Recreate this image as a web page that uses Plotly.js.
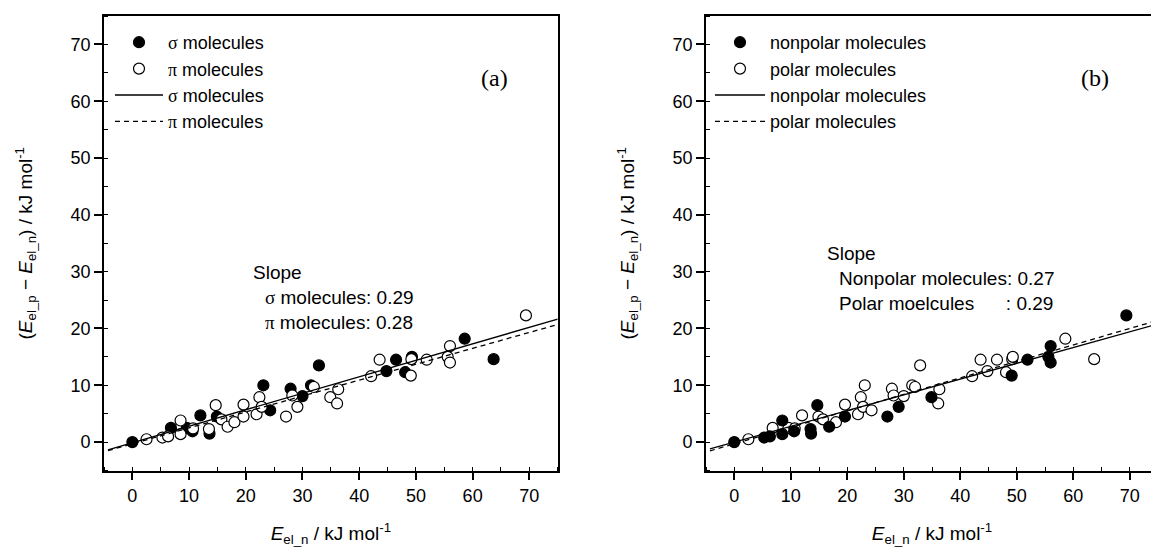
<!DOCTYPE html>
<html><head><meta charset="utf-8">
<script src="https://cdn.plot.ly/plotly-3.0.1.min.js"></script>
<style>html,body{margin:0;padding:0;overflow:hidden;background:#fff}</style>
</head><body><div id="chart" style="width:1165px;height:551px"></div>
<script>
// Panel (a): sigma (filled) and pi (open) molecules
const sigmaX = [0, 6.8, 9.6, 10.6, 12.0, 13.6, 14.9, 23.1, 24.3, 27.9, 30.0, 31.5, 32.9, 44.8, 46.5, 48.1, 49.3, 58.6, 63.7];
const sigmaY = [0, 2.5, 2.5, 1.9, 4.7, 1.5, 4.5, 10.0, 5.6, 9.4, 8.1, 10.0, 13.5, 12.5, 14.5, 12.3, 15.0, 18.2, 14.6];
const piX = [2.5, 5.3, 6.3, 8.5, 8.5, 10.7, 13.5, 14.7, 15.7, 16.8, 18.0, 19.6, 19.6, 21.9, 22.4, 22.8, 27.1, 28.2, 29.1, 32.0, 34.9, 36.3, 36.1, 42.1, 43.6, 49.1, 49.2, 51.9, 55.6, 56.0, 56.0, 69.4];
const piY = [0.5, 0.8, 1.0, 3.8, 1.4, 2.4, 2.3, 6.5, 4.0, 2.7, 3.5, 6.6, 4.5, 4.9, 7.9, 6.2, 4.5, 8.2, 6.2, 9.7, 7.9, 9.3, 6.8, 11.6, 14.5, 11.7, 14.6, 14.5, 15.0, 16.9, 14.0, 22.3];

// Panel (b): nonpolar (filled) and polar (open) molecules
const nonpolarX = [0, 5.3, 6.3, 8.5, 8.5, 10.6, 13.5, 13.6, 14.7, 16.8, 19.6, 27.1, 29.1, 34.9, 49.1, 51.9, 55.6, 56.0, 56.0, 69.4];
const nonpolarY = [0, 0.8, 1.0, 3.8, 1.4, 1.9, 2.3, 1.5, 6.5, 2.7, 4.5, 4.5, 6.2, 7.9, 11.7, 14.5, 15.0, 16.9, 14.0, 22.3];
const polarX = [2.5, 6.8, 9.6, 10.7, 12.0, 14.9, 15.7, 18.0, 19.6, 21.9, 22.4, 22.8, 23.1, 24.3, 27.9, 28.2, 30.0, 31.5, 32.0, 32.9, 36.3, 36.1, 42.1, 43.6, 44.8, 46.5, 48.1, 49.2, 49.3, 58.6, 63.7];
const polarY = [0.5, 2.5, 2.5, 2.4, 4.7, 4.5, 4.0, 3.5, 6.6, 4.9, 7.9, 6.2, 10.0, 5.6, 9.4, 8.2, 8.1, 10.0, 9.7, 13.5, 9.3, 6.8, 11.6, 14.5, 12.5, 14.5, 12.3, 14.6, 15.0, 18.2, 14.6];

// Linear fit lines (end points)
const fitX = [-4.3, 75];
const sigmaFitY = [-1.35, 21.65];
const piFitY = [-1.5, 20.7];
const nonpolarFitY = [-1.2, 20.8];
const polarFitY = [-1.55, 21.45];

// Axis ticks
const tickValues = [0, 10, 20, 30, 40, 50, 60, 70];
const tickLabels = ['0', '10', '20', '30', '40', '50', '60', '70'];

// Labels
const serif = s => '<span style="font-family:\'Liberation Serif\',serif">' + s + '</span>';
const legendA = [serif('σ') + ' molecules', serif('π') + ' molecules', serif('σ') + ' molecules', serif('π') + ' molecules'];
const legendB = ['nonpolar molecules', 'polar molecules', 'nonpolar molecules', 'polar molecules'];
const slopeA = ['Slope', serif('σ') + ' molecules: 0.29', serif('π') + ' molecules: 0.28'];
const slopeB = ['Slope', 'Nonpolar molecules: 0.27', 'Polar moelcules\u00a0\u00a0\u00a0\u00a0\u00a0\u00a0: 0.29'];
const xTitle = '<i>E</i><sub>el_n</sub> / kJ mol<sup>-1</sup>';
const yTitle = '(<i>E</i><sub>el_p</sub> − <i>E</i><sub>el_n</sub>) / kJ mol<sup>-1</sup>';

const FONT = 'Liberation Sans, Arial, sans-serif';
const mk = (filled) => ({symbol: 'circle', size: 11, color: filled ? 'black' : 'white', line: {color: 'black', width: 1.2}});
const DASH = '5px,4px';

const traces = [
  {x: sigmaX, y: sigmaY, mode: 'markers', name: legendA[0], marker: mk(true), xaxis: 'x', yaxis: 'y', legend: 'legend'},
  {x: piX, y: piY, mode: 'markers', name: legendA[1], marker: mk(false), xaxis: 'x', yaxis: 'y', legend: 'legend'},
  {x: fitX, y: sigmaFitY, mode: 'lines', name: legendA[2], line: {color: 'black', width: 1.3}, xaxis: 'x', yaxis: 'y', legend: 'legend'},
  {x: fitX, y: piFitY, mode: 'lines', name: legendA[3], line: {color: 'black', width: 1.3, dash: DASH}, xaxis: 'x', yaxis: 'y', legend: 'legend'},
  {x: polarX, y: polarY, mode: 'markers', name: legendB[1], marker: mk(false), xaxis: 'x2', yaxis: 'y2', legend: 'legend2', legendrank: 2},
  {x: nonpolarX, y: nonpolarY, mode: 'markers', name: legendB[0], marker: mk(true), xaxis: 'x2', yaxis: 'y2', legend: 'legend2', legendrank: 1},
  {x: fitX, y: nonpolarFitY, mode: 'lines', name: legendB[2], line: {color: 'black', width: 1.3}, xaxis: 'x2', yaxis: 'y2', legend: 'legend2', legendrank: 3},
  {x: fitX, y: polarFitY, mode: 'lines', name: legendB[3], line: {color: 'black', width: 1.3, dash: DASH}, xaxis: 'x2', yaxis: 'y2', legend: 'legend2', legendrank: 4}
];

const W = 1165, H = 551;
const domA = [104 / W, 557.7 / W];
const domB = [706 / W, 1158 / W];
const domY = [(H - 470.5) / H, (H - 16) / H];
const RANGE = [-5, 75];

function mainX(dom, anchor) {
  return {
    domain: dom, anchor: anchor, range: RANGE, showgrid: false, zeroline: false,
    showline: true, linecolor: 'black', linewidth: 1.7, mirror: true,
    tickmode: 'array', tickvals: tickValues, ticktext: tickLabels,
    ticks: 'outside', ticklen: 8, tickwidth: 1.5, tickcolor: 'black',
    tickfont: {family: FONT, size: 18, color: 'black'},
    minor: {tickmode: 'linear', tick0: 0, dtick: 5, ticks: 'inside', ticklen: 4, tickwidth: 1.3, tickcolor: 'black', showgrid: false},
    title: {text: xTitle, font: {family: FONT, size: 19, color: 'black'}, standoff: 22}
  };
}
function mainY(dom, anchor) {
  return {
    domain: dom, anchor: anchor, range: RANGE, showgrid: false, zeroline: false,
    showline: true, linecolor: 'black', linewidth: 1.7, mirror: true,
    tickmode: 'array', tickvals: tickValues, ticktext: tickLabels,
    ticks: 'outside', ticklen: 8, tickwidth: 1.5, tickcolor: 'black',
    tickfont: {family: FONT, size: 18, color: 'black'},
    minor: {tickmode: 'linear', tick0: 0, dtick: 5, ticks: 'inside', ticklen: 4, tickwidth: 1.3, tickcolor: 'black', showgrid: false},
    title: {text: yTitle, font: {family: FONT, size: 19, color: 'black'}, standoff: 33}
  };
}
function mirrorAx(over, anchor, side) {
  return {overlaying: over, anchor: anchor, side: side, range: RANGE, showgrid: false, zeroline: false,
    showline: false, showticklabels: false, tickmode: 'linear', tick0: 0, dtick: 5,
    ticks: 'inside', ticklen: 3, tickwidth: 1.3, tickcolor: 'black'};
}

const ann = [];
function txt(xref, yref, x, y, text, size, family, anchor) {
  ann.push({xref: xref, yref: yref, x: x, y: y, text: text, showarrow: false,
    xanchor: anchor || 'left', yanchor: 'middle', font: {family: family || FONT, size: size || 19, color: 'black'}});
}
txt('x', 'y', 63.8, 64, '(a)', 24, 'Liberation Serif, serif', 'center');
txt('x2', 'y2', 63.8, 64, '(b)', 24, 'Liberation Serif, serif', 'center');
txt('x', 'y', 21.0, 29.9, slopeA[0]);
txt('x', 'y', 23.0, 25.5, slopeA[1]);
txt('x', 'y', 23.0, 21.1, slopeA[2]);
txt('x2', 'y2', 16.0, 33.2, slopeB[0]);
txt('x2', 'y2', 18.2, 28.8, slopeB[1]);
txt('x2', 'y2', 18.2, 24.4, slopeB[2]);

const legendCommon = {bgcolor: 'rgba(0,0,0,0)', borderwidth: 0, itemwidth: 48, xanchor: 'left', yanchor: 'top',
  font: {family: FONT, size: 18, color: 'black'}, tracegroupgap: 0, traceorder: 'normal'};

const layout = {
  width: W, height: H, margin: {l: 0, r: 0, t: 0, b: 0},
  paper_bgcolor: 'white', plot_bgcolor: 'white',
  font: {family: FONT, color: 'black'},
  xaxis: mainX(domA, 'y'),
  yaxis: mainY(domY, 'x'),
  xaxis2: mainX(domB, 'y2'),
  yaxis2: mainY(domY, 'x2'),
  xaxis3: mirrorAx('x', 'y', 'top'),
  yaxis3: mirrorAx('y', 'x', 'right'),
  xaxis4: mirrorAx('x2', 'y2', 'top'),
  yaxis4: mirrorAx('y2', 'x2', 'right'),
  legend: Object.assign({}, legendCommon, {x: 110 / W, y: 1 - 24 / H}),
  legend2: Object.assign({}, legendCommon, {x: 710 / W, y: 1 - 24 / H, itemwidth: 50}),
  annotations: ann,
  showlegend: true
};

Plotly.newPlot('chart', traces, layout, {displayModeBar: false});
</script></body></html>
